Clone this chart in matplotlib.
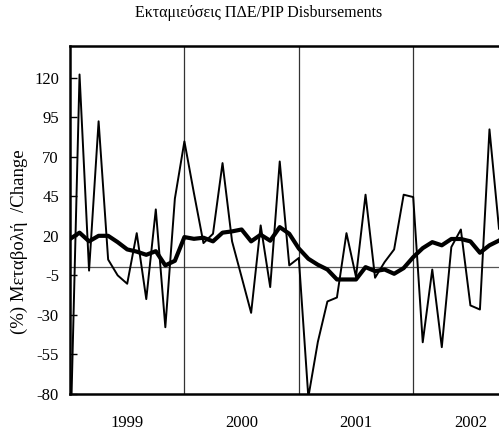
import matplotlib
matplotlib.use("Agg")
import matplotlib.pyplot as plt
import numpy as np

plt.rcParams['font.family'] = ['Liberation Serif', 'DejaVu Serif']

# Monthly % change (thin) and smoothed trend (thick), Jan 1999 onward
monthly_change = [-120, 122, -2, 92.4, 5, -5, -10.3, 21.7, -20, 36.7, -37.8, 43.5,
                  79.7, 47, 15.4, 21.3, 66, 16.5, -6, -28.7, 26.6, -12.4, 67, 1.3,
                  6, -82, -47, -21.5, -19, 21.7, -6, 46, -6.5, 3.4, 11.4, 46,
                  44.5, -47.3, -1.3, -50.4, 12.9, 24, -24, -26.6, 87.3, 24.5]
trend = [18, 22, 16.5, 20, 20, 16, 11.4, 10, 8, 10.3, 1.3, 4.2,
         19.2, 18.1, 18.8, 16.5, 22, 22.8, 24, 16.5, 20.7, 16.9, 25.5, 21.3,
         12, 5.5, 1.7, -1.3, -7.6, -7.6, -7.6, 0.2, -2.3, -1.3, -4, -0.4,
         6.5, 12.2, 16, 14, 18, 18, 16.5, 9.3, 14, 17]
year_labels = ['1999', '2000', '2001', '2002']
y_ticks = [-80, -55, -30, -5, 20, 45, 70, 95, 120]

x = np.arange(len(monthly_change))

fig = plt.figure(figsize=(4.99, 4.34), dpi=100)
ax = fig.add_axes([70/499, 40/434, 1 - 70/499, (394-46)/434])

ax.axhline(0, color='#555555', lw=0.9, zorder=1)
for b in [12, 24, 36]:
    ax.axvline(b, color='#333333', lw=0.9, zorder=1)

ax.plot(x, monthly_change, color='black', lw=1.4, zorder=3)
ax.plot(x, trend, color='black', lw=3.0, zorder=4, solid_joinstyle='round')

ax.set_xlim(0, 45)
ax.set_ylim(-80, 140)
ax.set_yticks(y_ticks)
ax.set_yticklabels([str(v) for v in y_ticks], fontsize=12)
ax.tick_params(axis='y', direction='in', length=5, width=1, pad=8)
ax.set_xticks([6, 18, 30, 42])
ax.set_xticklabels(year_labels, fontsize=12)
ax.tick_params(axis='x', length=0, pad=15)

for s in ['left', 'bottom', 'top']:
    ax.spines[s].set_linewidth(1.8)
ax.spines['right'].set_visible(False)

fig.text(258.5/499, 1 - 13/434, 'Εκταμιεύσεις ΠΔΕ/PIP Disbursements',
         ha='center', va='center', fontsize=11.5)
fig.text(19/499, 1 - 242/434, '(%) Μεταβολή  /Change', rotation=90,
         ha='center', va='center', fontsize=13.5)

fig.savefig('out.png', dpi=100)
